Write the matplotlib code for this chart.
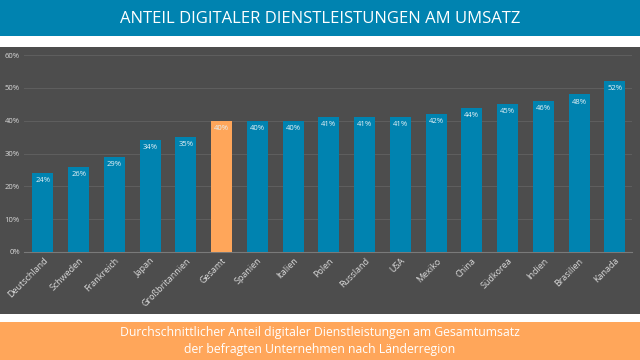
import matplotlib.pyplot as plt
from matplotlib.patches import Rectangle

# data
laender = ["Deutschland", "Schweden", "Frankreich", "Japan", "Großbritannien", "Gesamt",
           "Spanien", "Italien", "Polen", "Russland", "USA", "Mexiko", "China",
           "Südkorea", "Indien", "Brasilien", "Kanada"]
anteil = [24, 26, 29, 34, 35, 40, 40, 40, 41, 41, 41, 42, 44, 45, 46, 48, 52]
y_ticks = [0, 10, 20, 30, 40, 50, 60]

blue = "#0083B0"
orange = "#FFA65A"
panel = "#4D4D4D"

plt.rcParams['font.family'] = ['Open Sans', 'DejaVu Sans']

fig = plt.figure(figsize=(6.4, 3.6), dpi=100)
fig.patch.set_facecolor("white")

# banners
for y0, h, c in [(0.9, 0.1, blue), (0.128, 0.742, panel), (0, 0.105, orange)]:
    fig.patches.append(Rectangle((0, y0), 1, h, transform=fig.transFigure,
                                 facecolor=c, edgecolor="none", zorder=-5))

fig.text(0.5, 0.948, "ANTEIL DIGITALER DIENSTLEISTUNGEN AM UMSATZ", ha="center",
         va="center", color="white", fontsize=12)
fig.text(0.5, 0.053, "Durchschnittlicher Anteil digitaler Dienstleistungen am Gesamtumsatz\n"
         "der befragten Unternehmen nach Länderregion", ha="center", va="center",
         color="white", fontsize=8.8, linespacing=1.4)

ax = fig.add_axes([0.0375, 0.3, 0.95, 0.547])
ax.set_facecolor(panel)

colors = [orange if l == "Gesamt" else blue for l in laender]
x = range(len(laender))
bars = ax.bar(x, anteil, width=0.59, color=colors, zorder=3)

for xi, v in zip(x, anteil):
    ax.text(xi, v - 2.3, f"{v}%", ha="center", va="center", color="#E6F2F7", fontsize=5.5,
            zorder=4)

ax.set_ylim(0, 60)
ax.set_xlim(-0.53, len(laender) - 0.52)
ax.set_yticks(y_ticks)
ax.set_yticklabels([f"{t}%" for t in y_ticks], color="#D9D9D9", fontsize=5.5)
ax.set_xticks(list(x))
ax.set_xticklabels(laender, rotation=45, ha="right", rotation_mode="anchor",
                   color="#D9D9D9", fontsize=6.5)
ax.tick_params(length=0, pad=3)
ax.grid(axis="y", color="#5E5E5E", linewidth=0.8, zorder=0)
for s in ["top", "right", "left"]:
    ax.spines[s].set_visible(False)
ax.spines["bottom"].set_color("#7a7a7a")

plt.savefig("out.png", dpi=100, facecolor=fig.get_facecolor())
